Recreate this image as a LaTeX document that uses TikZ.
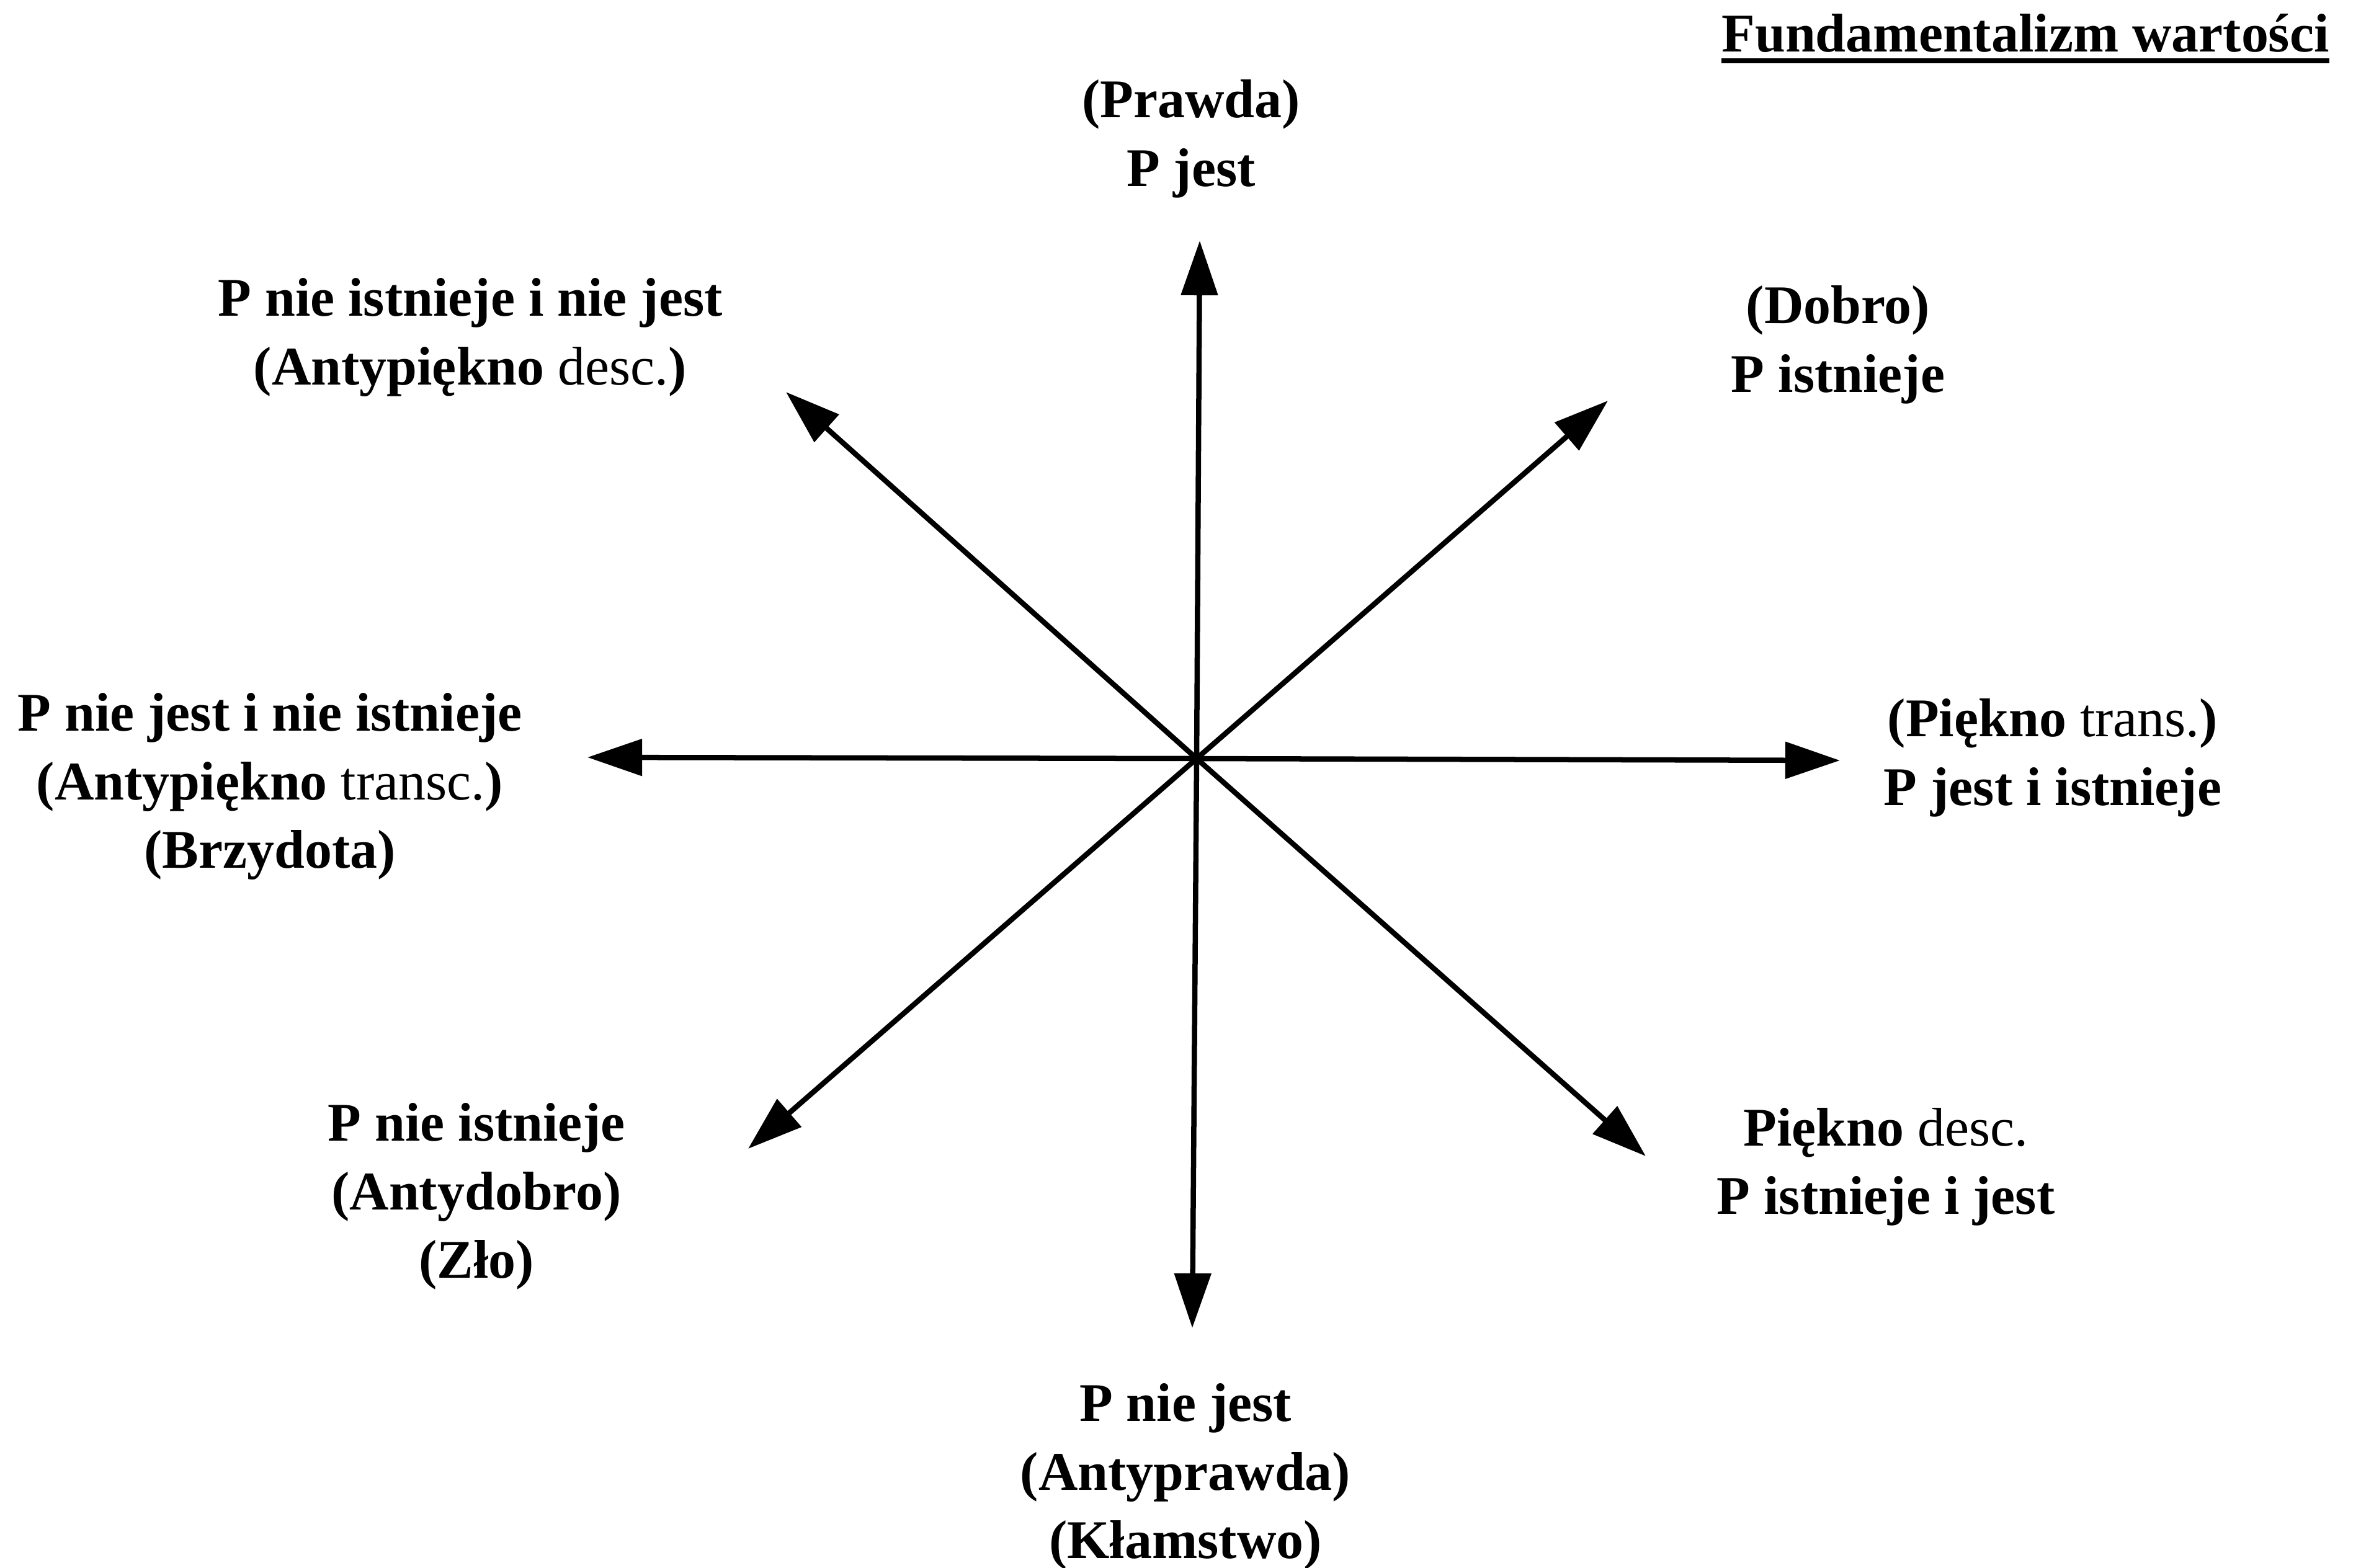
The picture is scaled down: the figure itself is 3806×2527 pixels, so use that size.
\documentclass[tikz,border=0pt]{standalone}
\usepackage{fontspec}
\setmainfont{Liberation Serif}
\usetikzlibrary{arrows.meta}
\begin{document}
\begin{tikzpicture}[x=0.01cm,y=-0.01cm,
  ray/.style={line width=0.085cm, -{Triangle[length=0.88cm,width=0.58cm]}},
  lbl/.style={align=center, inner sep=0pt,
    font=\fontsize{25pt}{31.3pt}\selectfont\bfseries}]
\useasboundingbox[fill=white] (0,0) rectangle (3806,2527);

% centre of the star and the eight arrow tips
\coordinate (O)  at (1929,1223);
\coordinate (tN) at (1934,388);
\coordinate (tS) at (1922,2141);
\coordinate (tE) at (2966,1226);
\coordinate (tW) at (947,1221);
\coordinate (tNE) at (2592,646);
\coordinate (tNW) at (1267,632);
\coordinate (tSW) at (1206,1852);
\coordinate (tSE) at (2653,1864);

\foreach \t in {tN,tS,tE,tW,tNE,tNW,tSW,tSE}
  \draw[ray] (O) -- (\t);

% title
\node[lbl, anchor=base] (title) at (3265,83) {Fundamentalizm wartości};
\draw[line width=0.08cm] ([yshift=-0.15cm]title.base west) -- ([yshift=-0.15cm]title.base east);

% labels at the arrow ends
\node[lbl] (lN)  at (1920,223)  {\strut(Prawda)\\P jest\strut};
\node[lbl] (lNE) at (2963,555)  {\strut(Dobro)\\P istnieje\strut};
\node[lbl] (lE)  at (3309,1221) {\strut(Piękno {\mdseries trans.})\\P jest i istnieje\strut};
\node[lbl] (lSE) at (3040,1880) {\strut Piękno {\mdseries desc.}\\P istnieje i jest\strut};
\node[lbl] (lS)  at (1911,2380) {\strut P nie jest\\(Antyprawda)\\(Kłamstwo)\strut};
\node[lbl] (lSW) at (768,1928)  {\strut P nie istnieje\\(Antydobro)\\(Zło)\strut};
\node[lbl] (lW)  at (435,1267)  {\strut P nie jest i nie istnieje\\(Antypiękno {\mdseries transc.})\\(Brzydota)\strut};
\node[lbl] (lNW) at (758,543)   {\strut P nie istnieje i nie jest\\(Antypiękno {\mdseries desc.})\strut};
\end{tikzpicture}
\end{document}
